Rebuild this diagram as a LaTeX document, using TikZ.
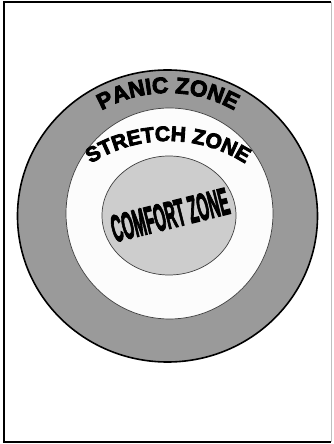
\documentclass[tikz,border=0pt]{standalone}
\usepackage{fontspec}
\usetikzlibrary{decorations.text}
\newfontfamily\heavy[FakeBold=4]{Liberation Sans Bold}
\definecolor{panicgray}{HTML}{9A9A9A}
\definecolor{stretchwhite}{HTML}{FCFCFC}
\definecolor{comfortgray}{HTML}{CDCDCD}
\tikzset{
  ring/.style={draw=black!75, line width=0.7pt},
  arctext/.style={decorate, decoration={text along path, text align=center,
    text={#1}}},
}
\begin{document}
\begin{tikzpicture}[x=1pt,y=1pt]
\useasboundingbox (0,0) rectangle (333,444);
% frame
\draw[black!25, line width=1pt] (331.8,442) -- (331.8,2);
\draw[black, line width=2pt] (331,441.6) -- (4,441.6) -- (4,2.4) -- (331,2.4);
% zones
\draw[fill=panicgray, line width=1.6pt] (167.5,228) ellipse [x radius=150, y radius=146];
\draw[ring, fill=stretchwhite] (169.5,230.5) ellipse [x radius=103.5, y radius=105.5];
\draw[ring, fill=comfortgray] (169,228.5) ellipse [x radius=67, y radius=59.5];
% arc labels
\coordinate (pc) at (168,216);
\coordinate (sc) at (168,160);
\path[arctext={|\heavy\fontsize{22.5}{22}\selectfont|PANIC ZONE}]
  ([shift={(150:135)}]pc) arc[start angle=150, end angle=30, radius=135];
\path[arctext={|\heavy\fontsize{21}{21}\selectfont|STRETCH ZONE}]
  ([shift={(140:143)}]sc) arc[start angle=140, end angle=40, radius=143];
% comfort label
\node[font=\heavy\fontsize{38}{38}\selectfont, rotate=14, xscale=0.39, inner sep=0]
  (comfort) at (170,229) {COMFORT ZONE};
\end{tikzpicture}
\end{document}
